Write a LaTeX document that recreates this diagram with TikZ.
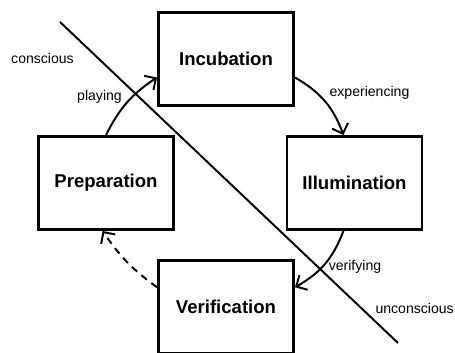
\documentclass[tikz,border=0pt]{standalone}
\usepackage{fontspec}
\setmainfont{Liberation Sans}
\usetikzlibrary{arrows.meta}

\begin{document}
\begin{tikzpicture}[> = {Straight Barb[length = 6pt, width = 12pt]},
	stage/.style = {draw, line width = 2.1pt, minimum width = 3.375 cm, minimum height = 2.325 cm, font = \fontsize{13.2}{15}\selectfont\bfseries},
	link/.style = {->, line width = 1.4pt},
	tag/.style = {font = \fontsize{10}{12}\selectfont}]

	% Frame
	
	\useasboundingbox (0, 0) rectangle (11.375, 8.8);

	% Stages
	
	\node [stage] (incubation) at (5.65, 7.325) {Incubation};
	\node [stage] (preparation) at (2.65, 4.225) {Preparation};
	\node [stage] (illumination) at (8.8625, 4.225) {Illumination};
	\node [stage] (verification) at (5.65, 1.125) {Verification};

	% Conscious / unconscious divide
	
	\coordinate (divtop) at (1.5, 8.25);
	\coordinate (divbottom) at (9.95, 0.225);
	\draw [line width = 1.4pt] (divtop) -- (divbottom);
	\node [tag] (conscious) at (1.0625, 7.35) {conscious};
	\node [tag, anchor = east, inner xsep = 0pt] (unconscious) at (11.35, 1.1) {unconscious};

	% Transitions
	
	\draw [link] (preparation.north) to [bend left = 15] (incubation.195);
	\node [tag] (playing) at (2.4875, 6.375) {playing};
	\draw [link] (incubation.345) to [bend left = 20] (illumination.103);
	\node [tag] (experiencing) at (9.2375, 6.475) {experiencing};
	\draw [link] (illumination.257) to [bend left = 20] (verification.16);
	\node [tag] (verifying) at (8.875, 2.125) {verifying};
	\draw [link, dash pattern = on 5pt off 4pt] (verification.164) to [bend left = 10] (preparation.266);

\end{tikzpicture}
\end{document}
